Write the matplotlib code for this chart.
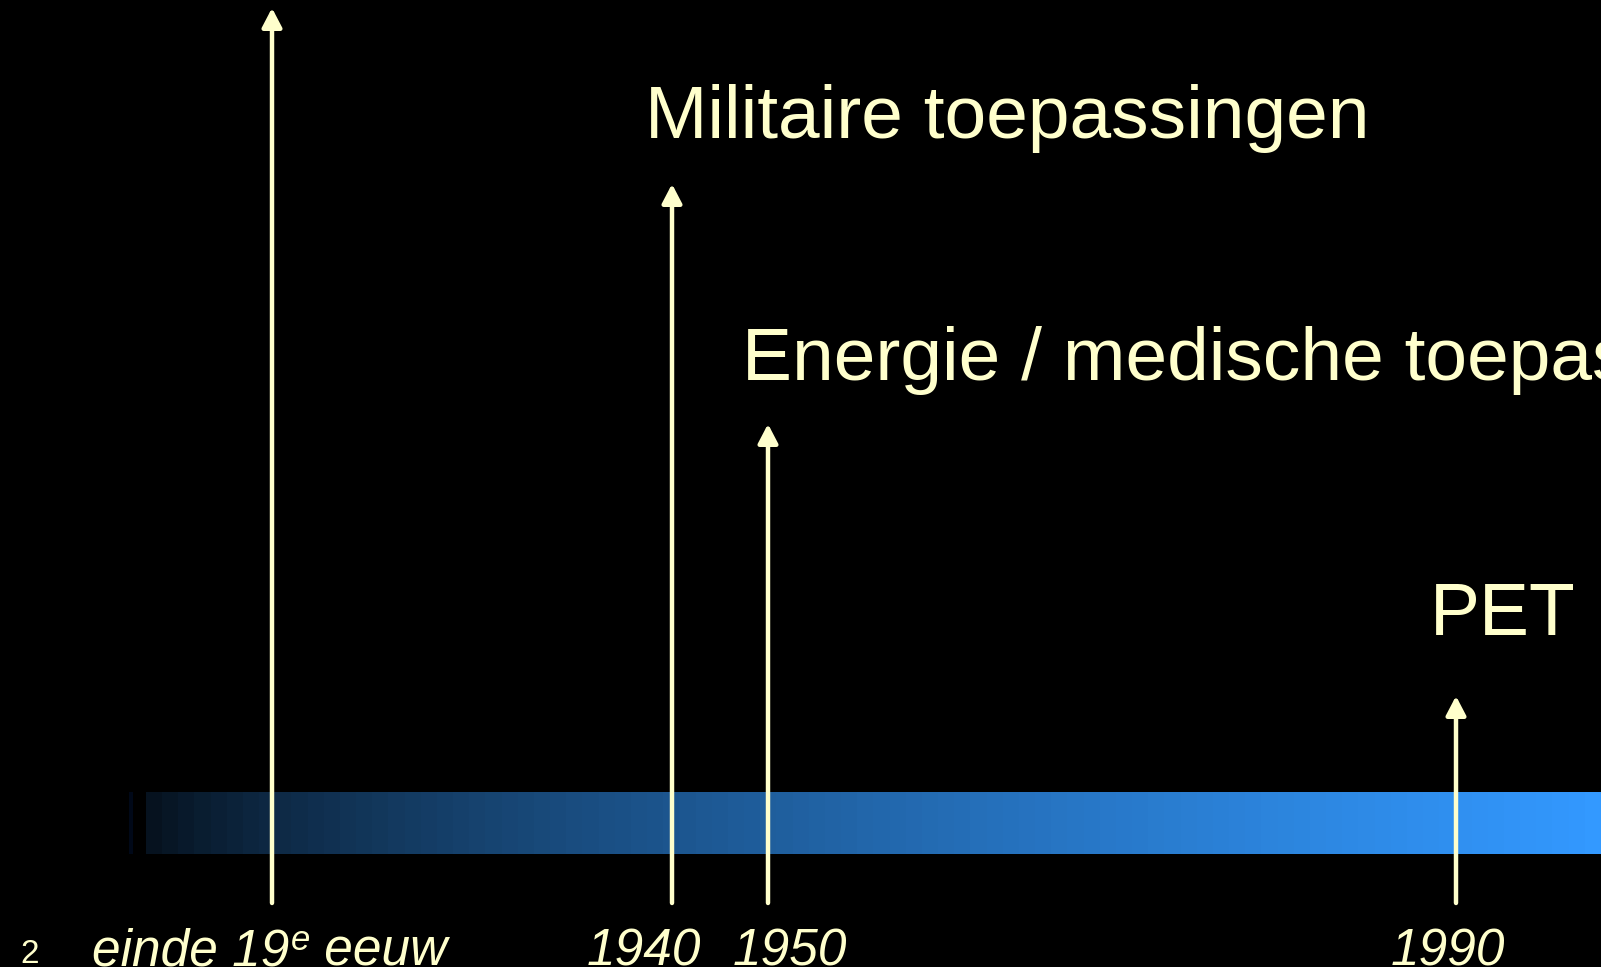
import matplotlib
matplotlib.use("Agg")
import matplotlib.pyplot as plt
import numpy as np

# timeline events (x = position along the bar, in pixels of the slide)
event_x = [272, 672, 768, 1456]
arrow_top = [8, 184, 424, 696]
# date label = main part + superscript + tail
date_labels = ['einde 19', '1940', '1950', '1990']
date_sup = ['e', '', '', '']
date_tail = [' eeuw', '', '', '']
date_label_x = [92, 587, 733, 1391]

event_labels = ['Militaire toepassingen', 'Energie / medische toepassingen', 'PET']
event_label_x = [645, 742, 1430]
event_label_y = [138, 380, 635]

slide_number = '2'

cream = '#FFFFCC'
W, H = 1601, 967

plt.rcParams['font.family'] = ['Liberation Sans', 'DejaVu Sans']

fig = plt.figure(figsize=(W / 100, H / 100), dpi=100, facecolor='black')
ax = fig.add_axes([0, 0, 1, 1])
ax.set_facecolor('black')
ax.set_xlim(0, W)
ax.set_ylim(H, 0)
ax.axis('off')

# gradient bar, black -> blue
n = 90
t = np.linspace(0.03, 1, n) ** 0.6
end = np.array([51, 153, 255]) / 255.0
grad = (t[:, None] * end[None, :])[None, :, :]
ax.imshow(grad, extent=[146, W, 854, 792], aspect='auto', interpolation='nearest', zorder=1)
ax.add_patch(plt.Rectangle((129, 792), 4, 62, color='#000818', lw=0, zorder=1))

for x, top in zip(event_x, arrow_top):
    ax.annotate('', xy=(x, top), xytext=(x, 903),
                arrowprops=dict(arrowstyle='-|>,head_length=1.15,head_width=0.6',
                                color=cream, lw=3.2, mutation_scale=10,
                                shrinkA=0, shrinkB=0), zorder=3)

for lab, x, y in zip(event_labels, event_label_x, event_label_y):
    ax.text(x, y, lab, color=cream, fontsize=54, ha='left', va='baseline', zorder=4)

renderer = fig.canvas.get_renderer()
inv = ax.transData.inverted()
for lab, sup, tail, x in zip(date_labels, date_sup, date_tail, date_label_x):
    t1 = ax.text(x, 965, lab, color=cream, fontsize=37, style='italic',
                 ha='left', va='baseline', zorder=4)
    if sup:
        x1 = inv.transform(t1.get_window_extent(renderer).get_points()[1])[0]
        t2 = ax.text(x1 + 1, 950, sup, color=cream, fontsize=25, style='italic',
                     ha='left', va='baseline', zorder=4)
        x2 = inv.transform(t2.get_window_extent(renderer).get_points()[1])[0]
        ax.text(x2, 965, tail, color=cream, fontsize=37, style='italic',
                ha='left', va='baseline', zorder=4)

ax.text(20, 963, slide_number, color=cream, fontsize=24, ha='left', va='baseline')

fig.savefig('out.png', dpi=100, facecolor='black')
